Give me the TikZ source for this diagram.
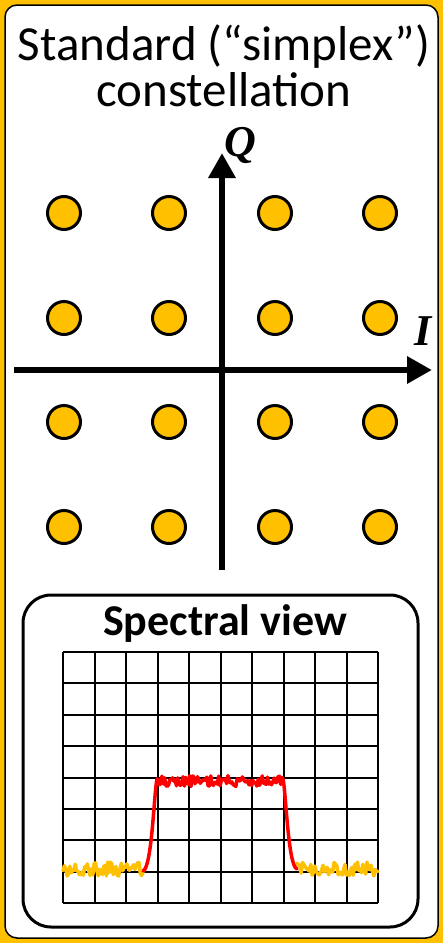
\documentclass[tikz,border=0pt]{standalone}
\usepackage{fontspec}
\setmainfont{Carlito}
\newfontfamily\axisfont{Liberation Serif}
\usetikzlibrary{arrows.meta}
\definecolor{gold}{HTML}{FFC000}
\definecolor{sigred}{HTML}{FF0000}
\tikzset{
  axisline/.style={line width=6.5pt, -{Triangle[length=25pt,width=26pt]}},
  dot/.style={circle, draw=black, line width=3pt, fill=gold, minimum size=33pt, inner sep=0pt},
  gridline/.style={line width=2pt, black},
  noisegold/.style={gold, line width=3.5pt, line join=round, line cap=round},
  noisered/.style={sigred, line width=3.5pt, line join=round, line cap=round},
  axislabel/.style={font=\axisfont\bfseries\itshape\fontsize{44}{46}\selectfont, inner sep=0pt},
}
\begin{document}
\begin{tikzpicture}[x=1pt,y=-1pt]
\fill[gold] (0,0) rectangle (443,943);
\useasboundingbox (0,0) rectangle (443,943);
\draw[black, line width=1.5pt, fill=white, rounded corners=12pt] (5,5) rectangle (438,938);
% title
\node[anchor=base, inner sep=0pt, align=center, font=\fontsize{49}{46}\selectfont] (title) at (224,106) {Standard (“simplex”)\\constellation};
% dots
\foreach \cx [count=\i] in {64,169,275,380}{
  \foreach \cy [count=\j] in {213,318,422,527}{
    \node[dot] (d\i\j) at (\cx,\cy) {};
  }
}
% axes
\coordinate (qbot) at (222,570);
\coordinate (qtop) at (222,153);
\coordinate (ileft) at (14,370);
\coordinate (iright) at (432,370);
\draw[axisline] (qbot) -- (qtop);
\draw[axisline] (ileft) -- (iright);
\node[axislabel] (Q) at (240,145) {Q};
\node[axislabel] (I) at (423,331) {I};
% spectral box
\draw[line width=3pt, rounded corners=28pt] (23,595) rectangle (418,927);
\node[anchor=base, inner sep=0pt, font=\bfseries\fontsize{44}{48}\selectfont] (st) at (225,635) {Spectral view};
\foreach \k in {0,...,10}{
  \draw[gridline] ({63+31.5*\k},652) -- ({63+31.5*\k},903);
}
\foreach \k in {0,...,8}{
  \draw[gridline] (63,{652+31.375*\k}) -- (378,{652+31.375*\k});
}
\pgfmathsetseed{7}
\draw[noisegold] plot[domain=63:143, samples=60] (\x,{869+7*rand});
\draw[noisegold] plot[domain=297:378, samples=60] (\x,{869+7*rand});
\draw[noisered] (143,871) .. controls (152,868) and (154,792) .. (157,779)
  -- plot[domain=158:282, samples=95] (\x,{781+5.5*rand})
  -- (283,779) .. controls (286,792) and (288,866) .. (297,869);
\end{tikzpicture}
\end{document}
